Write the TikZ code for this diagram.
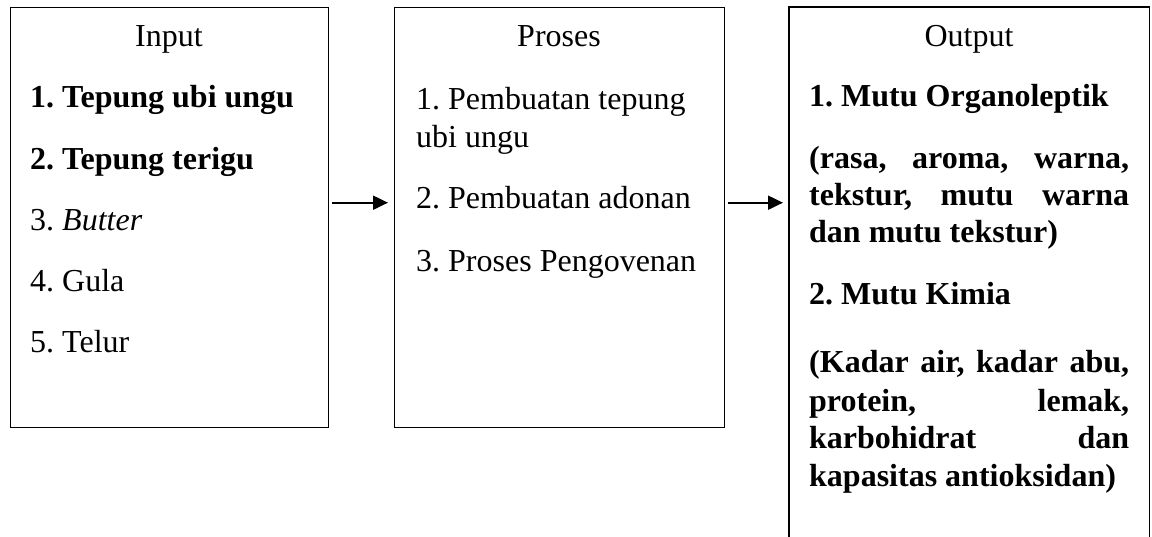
\documentclass[tikz,border=0pt]{standalone}
\usepackage{fontspec}
\setmainfont{Liberation Serif}
\frenchspacing
\usetikzlibrary{arrows.meta}
\tikzset{
  boxx/.style={draw=black, line width=1.4pt, inner sep=0pt, anchor=north west},
  txt/.style={anchor=base west, inner sep=0pt, font=\fontsize{32}{37}\selectfont},
  ttl/.style={anchor=base, inner sep=0pt, font=\fontsize{32}{37}\selectfont},
  arr/.style={line width=2pt, -{Triangle[length=15pt,width=14pt]}, shorten <=3pt, shorten >=6pt}
}
\newcommand{\jl}[1]{\makebox[320pt][s]{#1}}
\begin{document}
\begin{tikzpicture}[x=1pt,y=-1pt]
\useasboundingbox (0,0) rectangle (1152,537);
% boxes
\node[boxx, minimum width=318pt, minimum height=420pt] (inbox) at (10,7) {};
\node[boxx, minimum width=330pt, minimum height=420pt] (procbox) at (394,7) {};
\node[inner sep=0pt, anchor=north west, minimum width=360pt, minimum height=540pt] (outbox) at (789,7) {};
\draw[line width=1.4pt] (outbox.south west) -- (outbox.north west) -- (outbox.north east) -- (outbox.south east);
% arrows
\coordinate (a1) at ([yshift=15pt]inbox.east);
\coordinate (a2) at ([yshift=15pt]procbox.east);
\draw[arr] (a1) -- (a1 -| procbox.west);
\draw[arr] (a2) -- (a2 -| outbox.west);
% input
\node[ttl] (tin) at (169,47) {Input};
\node[txt] (i1) at (30,108) {\textbf{1. Tepung ubi ungu}};
\node[txt] (i2) at (30,170) {\textbf{2. Tepung terigu}};
\node[txt] (i3) at (30,231) {3. \textit{Butter}};
\node[txt] (i4) at (30,292) {4. Gula};
\node[txt] (i5) at (30,353) {5. Telur};
% process
\node[ttl] (tpr) at (559,47) {Proses};
\node[txt] (p1a) at (416,110) {1. Pembuatan tepung};
\node[txt] (p1b) at (416,148) {ubi ungu};
\node[txt] (p2) at (416,209) {2. Pembuatan adonan};
\node[txt] (p3) at (416,272) {3. Proses Pengovenan};
% output
\node[ttl] (tout) at (969,47) {Output};
\node[txt] (o1) at (809,107) {\textbf{1. Mutu Organoleptik}};
\node[txt] (o1a) at (809,169) {\textbf{\jl{(rasa, aroma, warna,}}};
\node[txt] (o1b) at (809,206) {\textbf{\jl{tekstur, mutu warna}}};
\node[txt] (o1c) at (809,243) {\textbf{dan mutu tekstur)}};
\node[txt] (o2) at (809,305) {\textbf{2. Mutu Kimia}};
\node[txt] (o2a) at (809,373) {\textbf{\jl{(Kadar air, kadar abu,}}};
\node[txt] (o2b) at (809,411) {\textbf{\jl{protein, lemak,}}};
\node[txt] (o2c) at (809,449) {\textbf{\jl{karbohidrat dan}}};
\node[txt] (o2d) at (809,486) {\textbf{kapasitas antioksidan)}};
\end{tikzpicture}
\end{document}
